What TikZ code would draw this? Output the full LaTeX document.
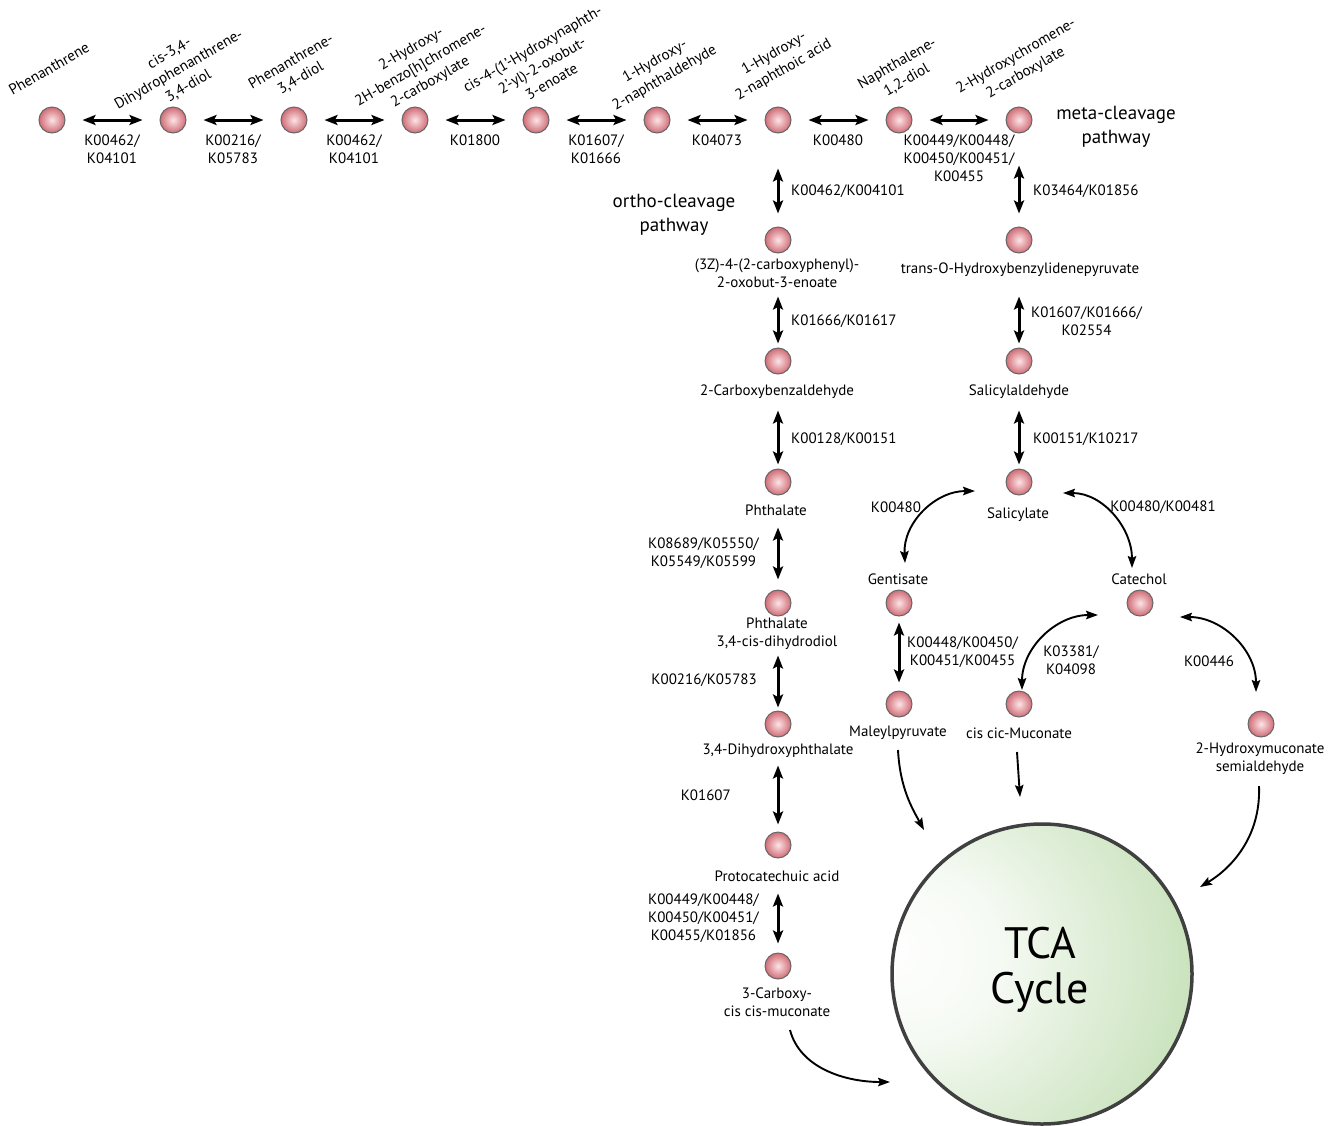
\documentclass[tikz,border=0pt]{standalone}
\usepackage{fontspec}
\setmainfont{PT Sans}
\usetikzlibrary{arrows.meta}

\definecolor{ballout}{RGB}{208,108,118}
\definecolor{ballin}{RGB}{252,228,230}
\definecolor{tcagreen}{RGB}{178,214,160}
\pgfdeclareradialshading{tcashade}{\pgfpoint{-26bp}{4bp}}{color(0bp)=(white); color(14bp)=(white!88!tcagreen); color(52bp)=(tcagreen); color(80bp)=(tcagreen)}

\begin{document}
\begin{tikzpicture}[x=1pt, y=-1pt, nodes = {align = center}, >={Stealth[length=13pt,width=10pt,inset=2.5pt]}]

  \tikzstyle{met}=[circle, minimum size=26pt, inner sep=0pt, draw=black!60, line width=1pt, shading=radial, inner color=ballin, outer color=ballout]
  \tikzstyle{txt}=[inner sep=1pt, font=\fontsize{15}{18}\selectfont]
  \tikzstyle{toptxt}=[txt, rotate=30, font=\fontsize{15}{19}\selectfont]
  \tikzstyle{big}=[inner sep=1pt, font=\fontsize{19}{24}\selectfont]
  \tikzstyle{rxn}=[<->, line width=3pt]
  \tikzstyle{bendrx}=[<->, line width=1.9pt, >={Stealth[length=12pt,width=8.5pt,inset=2pt]}]
  \tikzstyle{tocycle}=[->, line width=1.9pt, >={Stealth[length=12pt,width=8.5pt,inset=2pt]}]

  \useasboundingbox (0,0) rectangle (1338,1125);

  % TCA cycle
  \node[circle, minimum size=300pt, inner sep=0pt, shading=tcashade, draw=black!75, line width=3.5pt] (tca) at (1042,974) {};
  \node[inner sep=0pt, font=\fontsize{44}{45}\selectfont] (tcaL) at (1040,970) {TCA\\Cycle};

  % Upper row
  \node[met] (phen) at (52,120) {};
  \node[met] (dhpd) at (173,120) {};
  \node[met] (pdiol) at (294,120) {};
  \node[met] (hbcc) at (415,120) {};
  \node[met] (hnob) at (536,120) {};
  \node[met] (hna) at (657,120) {};
  \node[met] (hnoic) at (778,120) {};
  \node[met] (ndiol) at (899,120) {};
  \node[met] (hcc) at (1019,120) {};

  \node[toptxt] (phenL) at (49,69) {Phenanthrene};
  \node[toptxt] (dhpdL) at (179,70) {cis-3,4-\\Dihydrophenanthrene-\\3,4-diol};
  \node[toptxt] (pdiolL) at (296,70) {Phenanthrene-\\3,4-diol};
  \node[toptxt] (hbccL) at (421,66) {2-Hydroxy-\\2H-benzo[h]chromene-\\2-carboxylate};
  \node[toptxt] (hnobL) at (542,65) {cis-4-(1'-Hydroxynaphth-\\2'-yl)-2-oxobut-\\3-enoate};
  \node[toptxt] (hnaL) at (660,70) {1-Hydroxy-\\2-naphthaldehyde};
  \node[toptxt] (hnoicL) at (779,62) {1-Hydroxy-\\2-naphthoic acid};
  \node[toptxt] (ndiolL) at (902,72) {Naphthalene-\\1,2-diol};
  \node[toptxt] (hccL) at (1021,65) {2-Hydroxychromene-\\2-carboxylate};

  % Ortho branch
  \node[met] (cbpo) at (778,240) {};
  \node[met] (cbald) at (778,361) {};
  \node[met] (phth) at (778,482) {};
  \node[met] (phdd) at (778,603) {};
  \node[met] (dhph) at (778,724) {};
  \node[met] (pcat) at (778,845) {};
  \node[met] (ccm) at (778,966) {};

  \node[txt] (cbpoL) at (777,273) {(3Z)-4-(2-carboxyphenyl)-\\2-oxobut-3-enoate};
  \node[txt] (cbaldL) at (777,392) {2-Carboxybenzaldehyde};
  \node[txt] (phthL) at (776,510) {Phthalate};
  \node[txt] (phddL) at (777,634) {Phthalate\\3,4-cis-dihydrodiol};
  \node[txt] (dhphL) at (778,751) {3,4-Dihydroxyphthalate};
  \node[txt] (pcatL) at (777,876) {Protocatechuic acid};
  \node[txt] (ccmL) at (777,1002) {3-Carboxy-\\cis cis-muconate};

  % Meta branch
  \node[met] (tohb) at (1019,240) {};
  \node[met] (sald) at (1019,361) {};
  \node[met] (sal) at (1019,482) {};
  \node[met] (gen) at (899,603) {};
  \node[met] (cat) at (1140,603) {};
  \node[met] (malp) at (899,704) {};
  \node[met] (ccmuc) at (1019,704) {};
  \node[met] (hms) at (1261,724) {};

  \node[txt] (tohbL) at (1020,270) {trans-O-Hydroxybenzylidenepyruvate};
  \node[txt] (saldL) at (1019,392) {Salicylaldehyde};
  \node[txt] (salL) at (1018,515) {Salicylate};
  \node[txt] (genL) at (898,579) {Gentisate};
  \node[txt] (catL) at (1139,579) {Catechol};
  \node[txt] (malpL) at (898,733) {Maleylpyruvate};
  \node[txt] (ccmucL) at (1019,733) {cis cic-Muconate};
  \node[txt] (hmsL) at (1260,759) {2-Hydroxymuconate\\semialdehyde};

  % Pathway titles
  \node[big] (metaL) at (1116,127) {meta-cleavage\\pathway};
  \node[big] (orthoL) at (674,215) {ortho-cleavage\\pathway};

  % Enzyme labels
  \node[txt] (k1) at (112,149) {K00462/\\K04101};
  \node[txt] (k2) at (233,149) {K00216/\\K05783};
  \node[txt] (k3) at (354,149) {K00462/\\K04101};
  \node[txt] (k4) at (475,140) {K01800};
  \node[txt] (k5) at (596,149) {K01607/\\K01666};
  \node[txt] (k6) at (717,140) {K04073};
  \node[txt] (k7) at (838,140) {K00480};
  \node[txt] (k8) at (959,158) {K00449/K00448/\\K00450/K00451/\\K00455};

  \node[txt, anchor=west] (k9) at (790,191) {K00462/K004101};
  \node[txt, anchor=west] (k10) at (790,321) {K01666/K01617};
  \node[txt, anchor=west] (k11) at (790,439) {K00128/K00151};
  \node[txt, anchor=east] (k12) at (760,553) {K08689/K05550/\\K05549/K05599};
  \node[txt, anchor=east] (k13) at (758,680) {K00216/K05783};
  \node[txt, anchor=east] (k14) at (732,795) {K01607};
  \node[txt, anchor=east] (k15) at (760,918) {K00449/K00448/\\K00450/K00451/\\K00455/K01856};

  \node[txt, anchor=west] (k16) at (1032,191) {K03464/K01856};
  \node[txt, anchor=west] (k17) at (1030,321) {K01607/K01666/\\K02554};
  \node[txt, anchor=west] (k18) at (1032,439) {K00151/K10217};
  \node[txt] (k19) at (896,507) {K00480};
  \node[txt] (k20) at (1163,507) {K00480/K00481};
  \node[txt, anchor=west] (k21) at (906,652) {K00448/K00450/\\K00451/K00455};
  \node[txt] (k22) at (1071,660) {K03381/\\K04098};
  \node[txt] (k23) at (1209,661) {K00446};

  % Upper row reactions
  \draw[rxn, shorten <=17pt, shorten >=17pt] (phen) -- (dhpd);
  \draw[rxn, shorten <=17pt, shorten >=17pt] (dhpd) -- (pdiol);
  \draw[rxn, shorten <=17pt, shorten >=17pt] (pdiol) -- (hbcc);
  \draw[rxn, shorten <=17pt, shorten >=17pt] (hbcc) -- (hnob);
  \draw[rxn, shorten <=17pt, shorten >=17pt] (hnob) -- (hna);
  \draw[rxn, shorten <=17pt, shorten >=17pt] (hna) -- (hnoic);
  \draw[rxn, shorten <=17pt, shorten >=17pt] (hnoic) -- (ndiol);
  \draw[rxn, shorten <=17pt, shorten >=17pt] (ndiol) -- (hcc);

  % Ortho reactions
  \draw[rxn, shorten <=35pt, shorten >=13pt] (hnoic) -- (cbpo);
  \draw[rxn, shorten <=43pt, shorten >=4pt] (cbpo) -- (cbald);
  \draw[rxn, shorten <=36pt, shorten >=4pt] (cbald) -- (phth);
  \draw[rxn, shorten <=32pt, shorten >=10pt] (phth) -- (phdd);
  \draw[rxn, shorten <=39pt, shorten >=3pt] (phdd) -- (dhph);
  \draw[rxn, shorten <=28pt, shorten >=7pt] (dhph) -- (pcat);
  \draw[rxn, shorten <=35pt, shorten >=9pt] (pcat) -- (ccm);

  % Meta reactions
  \draw[rxn, shorten <=32pt, shorten >=13pt] (hcc) -- (tohb);
  \draw[rxn, shorten <=43pt, shorten >=4pt] (tohb) -- (sald);
  \draw[rxn, shorten <=36pt, shorten >=4pt] (sald) -- (sal);
  \draw[rxn, shorten <=6pt, shorten >=8pt] (gen) -- (malp);
  \draw[bendrx] ([shift={(-44,9)}]sal.center) .. controls +(-40,0) and +(-2,-40) .. ([shift={(7,-16)}]genL.center);
  \draw[bendrx] ([shift={(44,11)}]sal.center) .. controls +(40,0) and +(0,-40) .. ([shift={(-7,-11)}]catL.center);
  \draw[bendrx] ([shift={(-42,12)}]cat.center) .. controls +(-42,0) and +(0,-42) .. ([shift={(3,-14)}]ccmuc.center);
  \draw[bendrx] ([shift={(40,14)}]cat.center) .. controls +(42,0) and +(0,-42) .. ([shift={(-5,-32)}]hms.center);

  % Into the TCA cycle
  \draw[tocycle] ([shift={(13,28)}]ccmL.center) .. controls +(10,38) and +(-45,0) .. ([shift={(-152,108)}]tca.center);
  \draw[tocycle] ([shift={(0,17)}]malpL.center) .. controls +(2,38) and +(-12,-22) .. ([shift={(-118,-144)}]tca.center);
  \draw[tocycle] ([shift={(-2,19)}]ccmucL.center) -- ([shift={(-22,-177)}]tca.center);
  \draw[tocycle] ([shift={(-1,27)}]hmsL.center) .. controls +(2,52) and +(30,-18) .. ([shift={(158,-87)}]tca.center);

\end{tikzpicture}
\end{document}
